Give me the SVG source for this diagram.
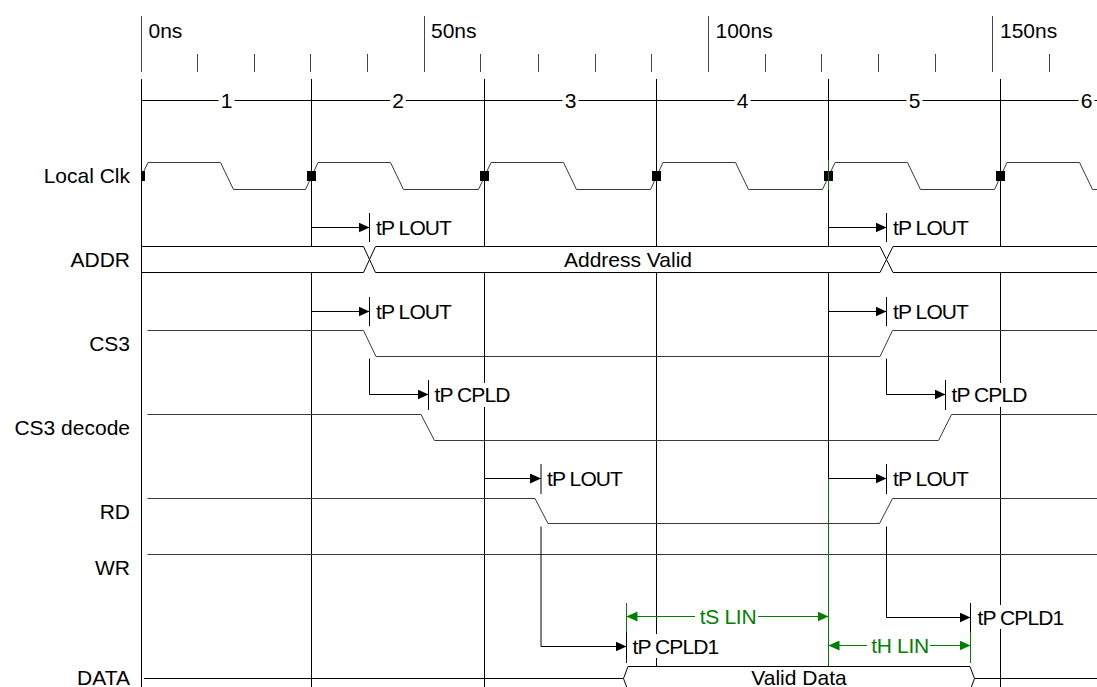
<svg xmlns="http://www.w3.org/2000/svg" width="1097" height="687" viewBox="0 0 1097 687">
<style>
text{font-family:"Liberation Sans",Arial,sans-serif;font-size:21px;fill:#000}
.sl{text-anchor:end}
.mid{text-anchor:middle}
.tp{letter-spacing:-0.9px}
.gt{fill:#008000;letter-spacing:-0.3px}
.tick{stroke:#444;stroke-width:1;fill:none}
.cyc{stroke:#000;stroke-width:1;fill:none}
.wave{stroke:#3a3a3a;stroke-width:1;fill:none}
.bus{stroke:#000;stroke-width:1;fill:#fff}
.arr{stroke:#000;stroke-width:1;fill:none}
.garr{stroke:#008000;stroke-width:1;fill:none}
.bg{fill:#fff}
</style>
<defs>
<marker id="ah" markerUnits="userSpaceOnUse" markerWidth="11" markerHeight="10" refX="11" refY="5" orient="auto"><path d="M0,0 L11,5 L0,10 Z" fill="#000"/></marker>
<marker id="gh" markerUnits="userSpaceOnUse" markerWidth="11" markerHeight="10" refX="11" refY="5" orient="auto-start-reverse"><path d="M0,0 L11,5 L0,10 Z" fill="#008000"/></marker>
</defs>
<rect width="1097" height="687" fill="#fff"/>

<g id="time-ruler">
<path class="tick" d="M141.5,16V72 M424.5,16V72 M708.5,16V72 M992.5,16V72"/>
<path class="tick" d="M197.5,54V72 M254.5,54V72 M310.5,54V72 M367.5,54V72 M480.5,54V72 M538.5,54V72 M595.5,54V72 M651.5,54V72 M765.5,54V72 M821.5,54V72 M878.5,54V72 M935.5,54V72 M1049.5,54V72"/>
<text x="148.5" y="38">0ns</text>
<text x="431" y="38">50ns</text>
<text x="715.5" y="38">100ns</text>
<text x="1000" y="38">150ns</text>
</g>

<g id="cycles">
<path class="cyc" d="M141.5,79V687 M311.5,79V687 M484.5,79V687 M656.5,79V687 M828.5,79V687 M1000.5,79V687 M141.5,100.5H1097"/>
<rect class="bg" x="218.5" y="91" width="16" height="19"/>
<rect class="bg" x="390" y="91" width="16" height="19"/>
<rect class="bg" x="562.5" y="91" width="16" height="19"/>
<rect class="bg" x="734.5" y="91" width="16" height="19"/>
<rect class="bg" x="906.5" y="91" width="16" height="19"/>
<rect class="bg" x="1078.5" y="91" width="16" height="19"/>
<text class="mid" x="226.5" y="108">1</text>
<text class="mid" x="398" y="108">2</text>
<text class="mid" x="570.5" y="108">3</text>
<text class="mid" x="742.5" y="108">4</text>
<text class="mid" x="914.5" y="108">5</text>
<text class="mid" x="1086.5" y="108">6</text>
</g>

<g id="sig-local-clk">
<text class="sl" x="130" y="183">Local Clk</text>
<path class="wave" d="M141.5,176 L148,162.5 H220.5 L233.5,189.5 H305.5 L318,162.5 H390.5 L403.5,189.5 H478.5 L491,162.5 H563.5 L576.5,189.5 H650.5 L663,162.5 H735.5 L748.5,189.5 H822.5 L835,162.5 H907.5 L920.5,189.5 H994.5 L1007,162.5 H1079.5 L1092.5,189.5 H1097"/>
<rect x="141" y="171" width="4" height="10"/>
<rect x="307" y="171" width="9" height="10"/>
<rect x="480" y="171" width="9" height="10"/>
<rect x="652" y="171" width="9" height="10"/>
<rect x="824" y="171" width="9" height="10"/>
<rect x="996" y="171" width="9" height="10"/>
<path d="M828.5,160V190" stroke="#008000" stroke-width="1"/>
</g>

<g id="sig-addr">
<text class="sl" x="130" y="267">ADDR</text>
<path class="bus" d="M141.5,246.5 H363.5 L369.5,259.5 L363.5,272.5 H141.5 Z"/>
<path class="bus" d="M369.5,259.5 L375.5,246.5 H880 L886.5,259.5 L880,272.5 H375.5 Z"/>
<path class="bus" d="M886.5,259.5 L893,246.5 H1099 V272.5 H893 Z"/>
<text class="mid" x="628" y="267">Address Valid</text>
</g>

<g id="sig-cs3">
<text class="sl" x="130" y="351">CS3</text>
<path class="wave" d="M147.5,330.5 H363.5 L376,356.5 H880 L892.5,330.5 H1097"/>
</g>

<g id="sig-cs3-decode">
<text class="sl" x="130" y="434.5">CS3 decode</text>
<path class="wave" d="M147.5,414.5 H421 L434.5,440.5 H938.5 L951.5,414.5 H1097"/>
</g>

<g id="sig-rd">
<text class="sl" x="130" y="518.5">RD</text>
<path class="wave" d="M147.5,498.5 H535 L548,523.5 H879.5 L892.5,498.5 H1097"/>
</g>

<g id="sig-wr">
<text class="sl" x="130" y="575">WR</text>
<path class="wave" d="M147.5,554.5 H1097"/>
</g>

<g id="sig-data">
<text class="sl" x="130" y="684.5">DATA</text>
<path class="cyc" d="M144,678.5 H623.5 M974.5,678.5 H1097"/>
<path class="bus" d="M623.5,678.5 L628,666.5 H970 L974.5,678.5 L970,690.5 H628 Z"/>
<text class="mid" x="799" y="684.5">Valid Data</text>
</g>

<g id="connectors">
<path class="arr" d="M311.5,227.5 H369.5" marker-end="url(#ah)"/>
<path class="arr" d="M369.5,213V242"/>
<path class="arr" d="M828.5,227.5 H886.5" marker-end="url(#ah)"/>
<path class="arr" d="M886.5,213V242"/>
<path class="arr" d="M311.5,311.5 H369.5" marker-end="url(#ah)"/>
<path class="arr" d="M369.5,297V326"/>
<path class="arr" d="M828.5,311.5 H886.5" marker-end="url(#ah)"/>
<path class="arr" d="M886.5,297V326"/>
<path class="arr" d="M369.5,358.5 V394.5 H428.5" marker-end="url(#ah)"/>
<path class="arr" d="M428.5,380V410"/>
<path class="arr" d="M886.5,358.5 V394.5 H945.5" marker-end="url(#ah)"/>
<path class="arr" d="M945.5,380V410"/>
<path class="arr" d="M484.5,478.5 H541" marker-end="url(#ah)"/>
<path class="arr" d="M541,464V494"/>
<path class="arr" d="M828.5,478.5 H886.5" marker-end="url(#ah)"/>
<path class="arr" d="M886.5,464V494"/>
<path class="arr" d="M541,526.5 V646.5 H626.5" marker-end="url(#ah)"/>
<path class="arr" d="M886.5,526.5 V617.5 H970.5" marker-end="url(#ah)"/>
<path class="garr" d="M626.5,603V663"/>
<path class="arr" d="M626.5,632V663"/>
<path class="arr" d="M970.5,603V632"/>
<path class="garr" d="M970.5,632V663"/>
<path class="garr" d="M828.5,478.5V665.5"/>
<path class="garr" d="M626.5,616.5 H828.5" marker-start="url(#gh)" marker-end="url(#gh)"/>
<path class="garr" d="M828.5,645.5 H970.5" marker-start="url(#gh)" marker-end="url(#gh)"/>
</g>

<g id="lbl-tplout-1"><text class="tp" x="376" y="235">tP LOUT</text></g>
<g id="lbl-tplout-2"><text class="tp" x="893" y="235">tP LOUT</text></g>
<g id="lbl-tplout-3"><text class="tp" x="376" y="319">tP LOUT</text></g>
<g id="lbl-tplout-4"><text class="tp" x="893" y="319">tP LOUT</text></g>
<g id="lbl-tpcpld-1"><rect class="bg" x="433" y="383" width="79" height="24"/><text class="tp" x="434.5" y="402">tP CPLD</text></g>
<g id="lbl-tpcpld-2"><rect class="bg" x="950" y="383" width="79" height="24"/><text class="tp" x="951.5" y="402">tP CPLD</text></g>
<g id="lbl-tplout-5"><text class="tp" x="547" y="486">tP LOUT</text></g>
<g id="lbl-tplout-6"><text class="tp" x="893" y="486">tP LOUT</text></g>
<g id="lbl-tpcpld1-1"><rect class="bg" x="631" y="634" width="88" height="24"/><text class="tp" x="632.5" y="654">tP CPLD1</text></g>
<g id="lbl-tpcpld1-2"><rect class="bg" x="976" y="605" width="88" height="24"/><text class="tp" x="977.5" y="625">tP CPLD1</text></g>
<g id="lbl-tslin"><rect class="bg" x="695" y="606" width="63" height="21"/><text class="gt mid" x="728" y="624">tS LIN</text></g>
<g id="lbl-thlin"><rect class="bg" x="867" y="635" width="63" height="21"/><text class="gt mid" x="900" y="653">tH LIN</text></g>
</svg>
